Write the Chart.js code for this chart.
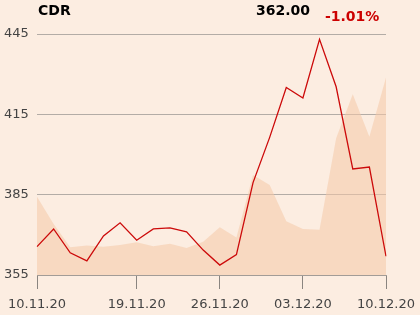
<!DOCTYPE html>
<html>
<head>
<meta charset="utf-8">
<script src="https://cdn.jsdelivr.net/npm/chart.js@4/dist/chart.umd.min.js"></script>
<style>
  body { margin: 0; background: #fcede1; }
  .wrap { position: relative; width: 420px; height: 315px; background: #fcede1; }
  .hdr { position: absolute; font-family: 'DejaVu Sans', sans-serif; font-weight: bold; font-size: 14px; line-height: 16px; white-space: nowrap; }
</style>
</head>
<body>
<div class="wrap">
  <canvas id="chart" width="420" height="315"></canvas>
  <span class="hdr" style="left:38px; top:2px; color:#000;">CDR</span>
  <span class="hdr" style="left:256px; top:2px; color:#000;">362.00</span>
  <span class="hdr" style="left:325px; top:8px; color:#cc0000;">-1.01%</span>
</div>
<script>
// trading days (11.11 is a holiday, no session)
const dates = ['10.11.20', '12.11.20', '13.11.20', '16.11.20', '17.11.20', '18.11.20', '19.11.20',
  '20.11.20', '23.11.20', '24.11.20', '25.11.20', '26.11.20', '27.11.20', '30.11.20', '01.12.20',
  '02.12.20', '03.12.20', '04.12.20', '07.12.20', '08.12.20', '09.12.20', '10.12.20'];
const shownDates = ['10.11.20', '19.11.20', '26.11.20', '03.12.20', '10.12.20'];

// closing price
const price = [365.6, 372.2, 363.3, 360.3, 369.6, 374.5, 368.0, 372.2, 372.6, 371.1, 364.3,
  358.7, 362.6, 389.5, 406.4, 425.0, 421.1, 443.0, 425.3, 394.6, 395.3, 362.0];

// volume, relative (0-100 of the plot height)
const volume = [32.5, 21.2, 11.5, 12.2, 11.7, 12.4, 13.6, 11.9, 13.0, 11.2, 13.8,
  19.8, 15.6, 41.5, 37.3, 22.3, 19.1, 18.8, 56.7, 75.0, 57.4, 82.0];

const yTicks = [355, 385, 415, 445];

const tickFont = { family: 'DejaVu Sans', size: 13 };

new Chart(document.getElementById('chart'), {
  type: 'line',
  data: {
    labels: dates,
    datasets: [{
      data: price,
      borderColor: '#cc0a0a',
      borderWidth: 1.3,
      pointRadius: 0,
      tension: 0,
      fill: false,
      yAxisID: 'y'
    }, {
      data: volume,
      borderWidth: 0,
      pointRadius: 0,
      tension: 0,
      fill: 'start',
      backgroundColor: 'rgba(244,200,168,0.55)',
      yAxisID: 'vol'
    }]
  },
  options: {
    responsive: false,
    animation: false,
    layout: { padding: { left: 4, right: 34, top: 34, bottom: 0 } },
    plugins: { legend: { display: false }, tooltip: { enabled: false } },
    scales: {
      x: {
        grid: { drawOnChartArea: false, drawTicks: true, tickLength: 14, color: '#8a8580' },
        border: { color: '#a29c97', width: 1 },
        ticks: {
          autoSkip: false,
          maxRotation: 0,
          padding: 8,
          color: '#444',
          font: tickFont,
          callback: function (val, i) {
            const lab = dates[i];
            return shownDates.includes(lab) ? lab : null;
          }
        },
        afterFit: function (axis) {
          axis.height = 40;
          axis.paddingLeft = 0;
          axis.paddingRight = 0;
        }
      },
      y: {
        min: 355,
        max: 445,
        afterBuildTicks: function (axis) { axis.ticks = yTicks.map(v => ({ value: v })); },
        grid: { drawTicks: false, color: '#b3aca6' },
        border: { display: false },
        ticks: { crossAlign: 'far', padding: 0, color: '#444', font: tickFont },
        afterFit: function (axis) {
          axis.width = 33;
          axis.paddingTop = 0;
          axis.paddingBottom = 0;
        }
      },
      vol: {
        display: false,
        min: 0,
        max: 100
      }
    }
  }
});
</script>
</body>
</html>
